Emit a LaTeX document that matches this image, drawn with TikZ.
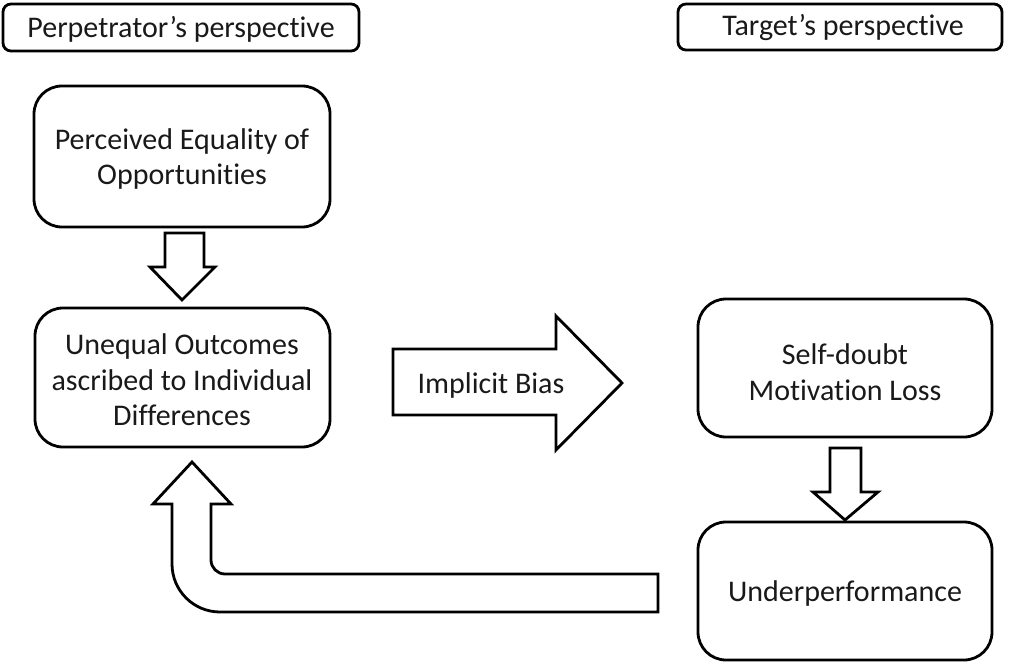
\documentclass[tikz,border=0pt]{standalone}
\usepackage{fontspec}
\setmainfont{Carlito}[Ligatures={NoCommon}]
\begin{document}
\begin{tikzpicture}[x=1pt,y=-1pt,
  every node/.style={font=\fontsize{30}{35.5}\selectfont, text=black!90, align=center, inner sep=0pt},
  titlebox/.style={draw, line width=2.8pt, rounded corners=8pt},
  mainbox/.style={draw, line width=2.8pt, rounded corners=28pt},
  blockarrow/.style={draw, line width=2.8pt, fill=white, line join=miter}]
\useasboundingbox (0,0) rectangle (1012,663);
% title boxes
\draw[titlebox] (3,4) rectangle (359,51);
\node (ptitle) at (181,29) {Perpetrator’s perspective};
\draw[titlebox] (678,4) rectangle (1002,50);
\node (ttitle) at (843,28) {Target’s perspective};
% main boxes
\draw[mainbox] (34,86) rectangle (330,227);
\node (peo) at (182,159) {Perceived Equality of\\Opportunities};
\draw[mainbox] (35,308) rectangle (330,447);
\node (uo) at (182,380) {Unequal Outcomes\\ascribed to Individual\\Differences};
\draw[mainbox] (698,299) rectangle (992,437);
\node (sd) at (845,372) {Self-doubt\\Motivation Loss};
\draw[mainbox] (698,522) rectangle (992,660);
\node (up) at (845,593) {Underperformance};
% small down arrows
\draw[blockarrow] (165,233) -- (204,233) -- (204,267) -- (215,267) -- (182,300) -- (150,267) -- (165,267) -- cycle;
\draw[blockarrow] (830,448) -- (861,448) -- (861,492) -- (878,492) -- (845,520) -- (813,492) -- (830,492) -- cycle;
% implicit bias arrow
\draw[blockarrow] (393,349) -- (556,349) -- (556,316) -- (622,383) -- (556,450) -- (556,415) -- (393,415) -- cycle;
\node (ib) at (491,386) {Implicit Bias};
% bent feedback arrow
\draw[blockarrow] (172,504) -- (153,504) -- (192,462) -- (231,504) -- (211,504) -- (211,560)
  arc[start angle=180,end angle=270,radius=14pt] -- (658,574) -- (658,612) -- (220,612)
  arc[start angle=270,end angle=180,radius=48pt] -- cycle;
\end{tikzpicture}
\end{document}
